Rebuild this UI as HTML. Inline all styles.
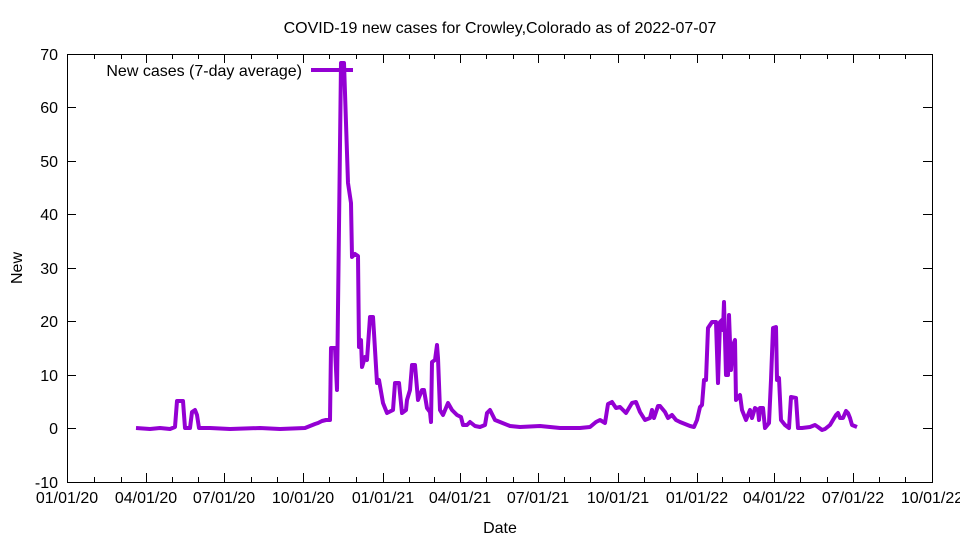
<!DOCTYPE html>
<html><head><meta charset="utf-8"><style>body{margin:0;background:#fff}</style></head><body>
<svg width="960" height="540" xmlns="http://www.w3.org/2000/svg" font-family="Liberation Sans, sans-serif" font-size="16">
<rect width="960" height="540" fill="#fff"/>
<text x="500" y="33" text-anchor="middle">COVID-19 new cases for Crowley,Colorado as of 2022-07-07</text>
<text x="500" y="533" text-anchor="middle">Date</text>
<text transform="translate(22,268) rotate(-90)" text-anchor="middle">New</text>
<g stroke="#000" stroke-width="1" fill="none">
<rect x="67.5" y="54.5" width="865" height="428"/>
<path d="M67,482.5h9M932,482.5h-9M67,428.5h9M932,428.5h-9M67,375.5h9M932,375.5h-9M67,321.5h9M932,321.5h-9M67,268.5h9M932,268.5h-9M67,214.5h9M932,214.5h-9M67,161.5h9M932,161.5h-9M67,107.5h9M932,107.5h-9M67,54.5h9M932,54.5h-9"/>
<path d="M146.5,482v-9M146.5,54v9M224.5,482v-9M224.5,54v9M303.5,482v-9M303.5,54v9M383.5,482v-9M383.5,54v9M460.5,482v-9M460.5,54v9M538.5,482v-9M538.5,54v9M618.5,482v-9M618.5,54v9M697.5,482v-9M697.5,54v9M774.5,482v-9M774.5,54v9M853.5,482v-9M853.5,54v9"/>
<path d="M94.5,482v-5M94.5,54v5M121.5,482v-5M121.5,54v5M172.5,482v-5M172.5,54v5M198.5,482v-5M198.5,54v5M251.5,482v-5M251.5,54v5M277.5,482v-5M277.5,54v5M329.5,482v-5M329.5,54v5M356.5,482v-5M356.5,54v5M409.5,482v-5M409.5,54v5M434.5,482v-5M434.5,54v5M486.5,482v-5M486.5,54v5M513.5,482v-5M513.5,54v5M564.5,482v-5M564.5,54v5M590.5,482v-5M590.5,54v5M644.5,482v-5M644.5,54v5M670.5,482v-5M670.5,54v5M722.5,482v-5M722.5,54v5M749.5,482v-5M749.5,54v5M800.5,482v-5M800.5,54v5M827.5,482v-5M827.5,54v5M879.5,482v-5M879.5,54v5M905.5,482v-5M905.5,54v5"/>
</g>
<g text-anchor="end">
<text x="58" y="488">-10</text><text x="58" y="434">0</text><text x="58" y="381">10</text><text x="58" y="327">20</text><text x="58" y="274">30</text><text x="58" y="220">40</text><text x="58" y="167">50</text><text x="58" y="113">60</text><text x="58" y="60">70</text>
</g>
<g text-anchor="middle">
<text x="67" y="503">01/01/20</text><text x="146" y="503">04/01/20</text><text x="224" y="503">07/01/20</text><text x="303" y="503">10/01/20</text><text x="383" y="503">01/01/21</text><text x="460" y="503">04/01/21</text><text x="538" y="503">07/01/21</text><text x="618" y="503">10/01/21</text><text x="697" y="503">01/01/22</text><text x="774" y="503">04/01/22</text><text x="853" y="503">07/01/22</text><text x="932" y="503">10/01/22</text>
</g>
<text x="302" y="76" text-anchor="end">New cases (7-day average)</text>
<line x1="311" y1="70" x2="353" y2="70" stroke="#9400d3" stroke-width="4"/>
<polyline fill="none" stroke="#9400d3" stroke-width="4" stroke-linejoin="round" points="136,428 150,429 160,428 170,429 175,427 177,401 183,401 185,428 190,428 192,412 195,410 197,415 199,428 210,428 230,429 260,428 280,429 305,428 310,426 315,424 318,423 322,421 326,420 330,420 331,348 335,348 337,390 341,63 344,63 348,183 351,203 352,257 355,254 358,256 359,347 361,340 362,367 365,357 367,360 370,317 373,317 374,333 377,383 379,380 383,403 387,413 393,410 395,383 399,383 402,413 406,410 407,400 410,390 412,365 415,365 418,400 422,390 424,390 427,408 430,412 431,422 432,362 435,360 437,345 438,358 440,410 443,415 448,403 452,410 457,415 461,417 463,425 467,425 470,422 475,426 480,427 485,425 487,413 490,410 495,420 500,422 510,426 520,427 540,426 560,428 580,428 590,427 596,422 600,420 605,423 608,404 612,402 616,408 620,407 626,413 632,403 636,402 640,412 645,420 650,418 652,410 654,418 658,406 660,406 665,412 668,418 672,415 676,420 680,422 685,424 690,426 694,427 697,420 700,407 702,405 704,380 706,380 708,328 712,322 716,322 718,383 720,322 722,320 723,330 724,302 726,375 728,375 729,315 731,370 733,345 735,340 736,400 740,395 742,410 746,420 750,410 752,418 755,408 758,410 759,420 760,408 763,408 765,428 769,423 771,380 773,328 776,327 777,380 779,378 781,420 785,425 789,428 791,397 796,398 798,428 802,428 810,427 815,425 818,427 822,430 825,429 830,425 833,420 836,415 838,413 840,418 843,418 846,411 848,413 850,418 852,425 857,427"/>
</svg>
</body></html>
